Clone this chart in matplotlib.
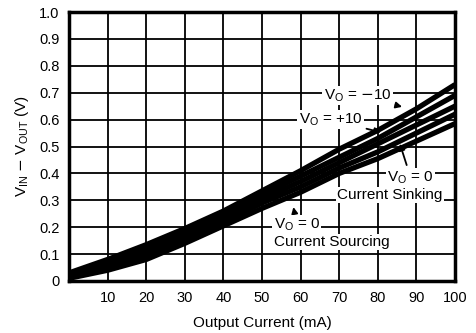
import matplotlib.pyplot as plt

plt.rcParams['font.family'] = ['Liberation Sans', 'DejaVu Sans']

# output current (mA)
current = [0, 10, 20, 30, 40, 50, 60, 70, 80, 90, 100]

# dropout voltage V_IN - V_OUT (V)
vo_neg10 = [0.03, 0.08, 0.135, 0.195, 0.26, 0.335, 0.41, 0.49, 0.56, 0.64, 0.73]
vo_pos10 = [0.025, 0.07, 0.12, 0.18, 0.25, 0.32, 0.39, 0.46, 0.53, 0.61, 0.69]
vo0_sink = [0.02, 0.06, 0.11, 0.17, 0.235, 0.305, 0.37, 0.44, 0.51, 0.58, 0.65]
vo_mid = [0.015, 0.05, 0.095, 0.155, 0.22, 0.29, 0.35, 0.42, 0.48, 0.55, 0.62]
vo0_source = [0.01, 0.04, 0.08, 0.14, 0.205, 0.27, 0.33, 0.40, 0.455, 0.52, 0.585]

xticks = [10, 20, 30, 40, 50, 60, 70, 80, 90, 100]
yticks = [0, 0.1, 0.2, 0.3, 0.4, 0.5, 0.6, 0.7, 0.8, 0.9, 1.0]

fig = plt.figure(figsize=(4.77, 3.33), dpi=100)
ax = fig.add_axes([69 / 477, 1 - 281 / 333, 386 / 477, 269 / 333])

for ys in [vo_neg10, vo_pos10, vo0_sink, vo_mid, vo0_source]:
    ax.plot(current, ys, color='black', linewidth=3.8, solid_capstyle='butt', zorder=3)

ax.set_xlim(0, 100)
ax.set_ylim(0, 1.0)
ax.set_xticks(xticks)
ax.set_yticks(yticks)
ax.set_yticklabels(['0'] + [f'{v:.1f}' for v in yticks[1:]])
ax.tick_params(length=0, labelsize=10.5, pad=7)
ax.grid(True, color='black', linewidth=1.3)
ax.set_axisbelow(True)
for s in ax.spines.values():
    s.set_linewidth(2.5)

ax.set_xlabel('Output Current (mA)', fontsize=11, labelpad=8)
ax.set_ylabel(r'V$_{\mathregular{IN}}$ $-$ V$_{\mathregular{OUT}}$ (V)', fontsize=11, labelpad=6)

box = dict(facecolor='white', edgecolor='none', pad=1)
arrow = dict(arrowstyle='-|>', color='black', lw=1.3, mutation_scale=9)
fs = 11

ax.annotate(r'V$_{\mathregular{O}}$ = $-$10', xy=(87, 0.645), xytext=(66, 0.69),
            fontsize=fs, ha='left', va='center', bbox=box, arrowprops=arrow, zorder=5)
ax.annotate(r'V$_{\mathregular{O}}$ = +10', xy=(81.5, 0.55), xytext=(59.5, 0.60),
            fontsize=fs, ha='left', va='center', bbox=box, arrowprops=arrow, zorder=5)
ax.annotate(r'V$_{\mathregular{O}}$ = 0', xy=(85.5, 0.52), xytext=(82.5, 0.385),
            fontsize=fs, ha='left', va='center', bbox=box, arrowprops=arrow, zorder=5)
ax.text(69.5, 0.32, 'Current Sinking', fontsize=fs, ha='left', va='center', bbox=box, zorder=5)
ax.annotate(r'V$_{\mathregular{O}}$ = 0', xy=(58, 0.285), xytext=(53, 0.21),
            fontsize=fs, ha='left', va='center', bbox=box, arrowprops=arrow, zorder=5)
ax.text(53, 0.145, 'Current Sourcing', fontsize=fs, ha='left', va='center', bbox=box, zorder=5)

plt.savefig('out.png', dpi=100)
